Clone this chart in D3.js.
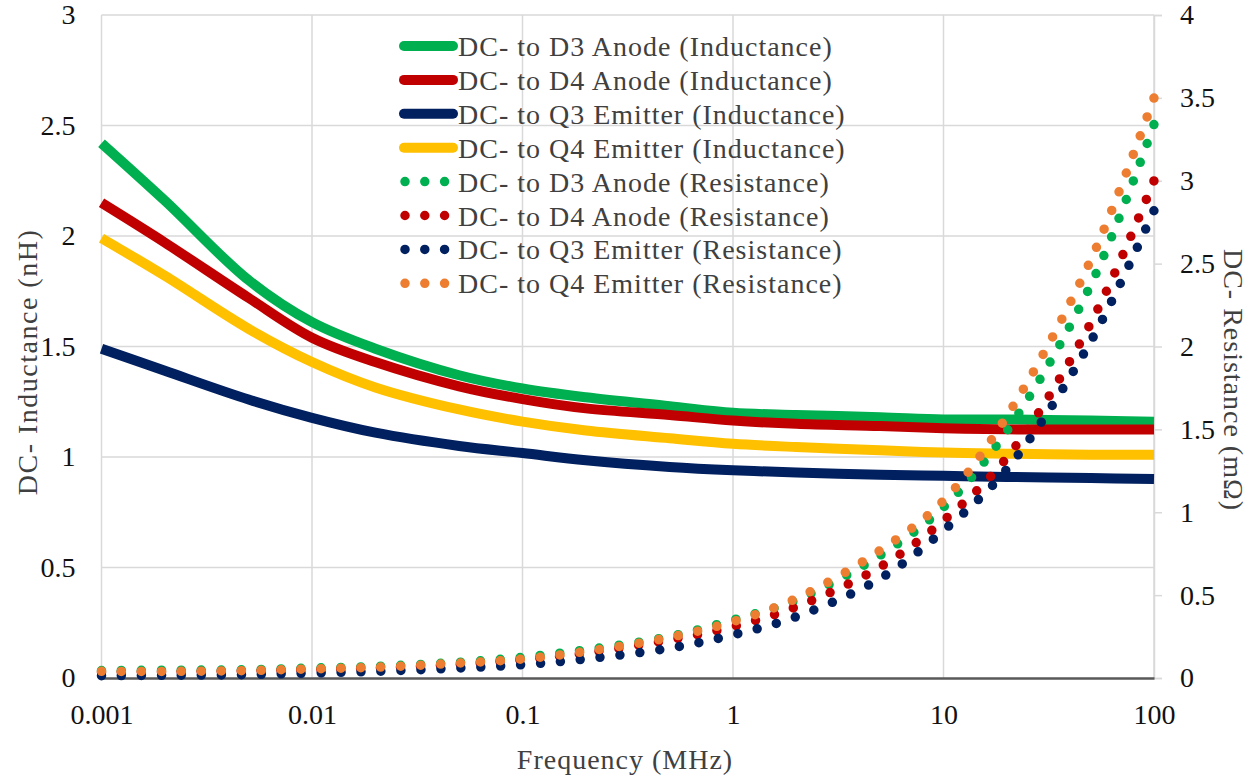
<!DOCTYPE html>
<html>
<head>
<meta charset="utf-8">
<script src="https://cdn.jsdelivr.net/npm/d3@7"></script>
<style>
  html, body { margin: 0; padding: 0; background: #fff; }
  svg { display: block; }
  text { font-family: "Liberation Serif", "Times New Roman", serif; }
</style>
</head>
<body>
<svg id="chart" width="1258" height="778"></svg>
<script>
// ---- data ----
const freqs = [0.001, 0.002, 0.005, 0.01, 0.02, 0.05, 0.1, 0.2, 0.5, 1, 2, 5, 10, 20, 50, 100];

const indD3 = [2.42, 2.16, 1.80, 1.61, 1.49, 1.37, 1.31, 1.27, 1.23, 1.20, 1.19, 1.18, 1.17, 1.17, 1.165, 1.16];
const indD4 = [2.15, 1.97, 1.72, 1.54, 1.43, 1.32, 1.262, 1.22, 1.19, 1.165, 1.15, 1.14, 1.13, 1.125, 1.125, 1.125];
const indQ3 = [1.49, 1.39, 1.26, 1.177, 1.11, 1.05, 1.018, 0.985, 0.955, 0.94, 0.93, 0.92, 0.915, 0.91, 0.905, 0.90];
const indQ4 = [1.99, 1.82, 1.58, 1.43, 1.315, 1.215, 1.16, 1.12, 1.085, 1.06, 1.045, 1.03, 1.02, 1.015, 1.01, 1.01];

const resD3 = [0.045, 0.047, 0.05, 0.06, 0.07, 0.095, 0.125, 0.17, 0.25, 0.35, 0.47, 0.74, 1.03, 1.49, 2.37, 3.34];
const resD4 = [0.035, 0.037, 0.042, 0.05, 0.06, 0.083, 0.11, 0.15, 0.23, 0.31, 0.43, 0.67, 0.95, 1.33, 2.14, 3.00];
const resQ3 = [0.014, 0.016, 0.021, 0.03, 0.04, 0.06, 0.08, 0.115, 0.18, 0.26, 0.37, 0.60, 0.89, 1.26, 2.03, 2.82];
const resQ4 = [0.04, 0.04, 0.045, 0.055, 0.065, 0.09, 0.115, 0.16, 0.245, 0.34, 0.48, 0.77, 1.07, 1.58, 2.52, 3.50];

const xTicks = [0.001, 0.01, 0.1, 1, 10, 100];
const xTickLabels = ["0.001", "0.01", "0.1", "1", "10", "100"];
const yLeftTicks = [0, 0.5, 1, 1.5, 2, 2.5, 3];
const yRightTicks = [0, 0.5, 1, 1.5, 2, 2.5, 3, 3.5, 4];

const inductanceSeries = [
  { name: "DC- to D3 Anode (Inductance)", values: indD3, color: "#00B050" },
  { name: "DC- to D4 Anode (Inductance)", values: indD4, color: "#C00000" },
  { name: "DC- to Q3 Emitter (Inductance)", values: indQ3, color: "#002060" },
  { name: "DC- to Q4 Emitter (Inductance)", values: indQ4, color: "#FFC000" }
];
const resistanceSeries = [
  { name: "DC- to D3 Anode (Resistance)", values: resD3, color: "#00B050" },
  { name: "DC- to D4 Anode (Resistance)", values: resD4, color: "#C00000" },
  { name: "DC- to Q3 Emitter (Resistance)", values: resQ3, color: "#002060" },
  { name: "DC- to Q4 Emitter (Resistance)", values: resQ4, color: "#ED7D31" }
];

// ---- layout ----
const svg = d3.select("#chart");
const L = 101.5, R = 1154, T = 15, B = 678;

const x = d3.scaleLog().domain([0.001, 100]).range([L, R]);
const yL = d3.scaleLinear().domain([0, 3]).range([B, T]);
const yR = d3.scaleLinear().domain([0, 4]).range([B, T]);

const grid = svg.append("g");
grid.selectAll("line.h").data(yLeftTicks.filter(d => d > 0)).join("line")
  .attr("x1", L).attr("x2", R)
  .attr("y1", d => yL(d)).attr("y2", d => yL(d))
  .attr("stroke", "#d9d9d9").attr("stroke-width", 1.5);
grid.selectAll("line.v").data(xTicks).join("line")
  .attr("x1", d => x(d)).attr("x2", d => x(d))
  .attr("y1", T).attr("y2", B)
  .attr("stroke", "#d9d9d9").attr("stroke-width", 1.5);

// axes
const fontSize = 28;
const axL = svg.append("g").attr("transform", `translate(${L},0)`)
  .call(d3.axisLeft(yL).tickValues(yLeftTicks).tickFormat(d3.format("")).tickSize(0).tickPadding(26));
axL.select(".domain").remove();

const axR = svg.append("g").attr("transform", `translate(${R},0)`)
  .call(d3.axisRight(yR).tickValues(yRightTicks).tickFormat(d3.format("")).tickSize(8).tickPadding(18));
axR.select(".domain").attr("stroke", "#d9d9d9").attr("stroke-width", 1.5);
axR.selectAll(".tick line").attr("stroke", "#d9d9d9").attr("stroke-width", 1.5);

const axB = svg.append("g").attr("transform", `translate(0,${B})`)
  .call(d3.axisBottom(x).tickValues(xTicks).tickFormat((d, i) => xTickLabels[i]).tickSize(0).tickPadding(26));
axB.select(".domain").attr("stroke", "#595959").attr("stroke-width", 2.5);

svg.selectAll(".tick text")
  .attr("font-family", "Liberation Serif")
  .attr("font-size", fontSize)
  .attr("fill", "#111");

// lines
const curve = d3.curveCatmullRom.alpha(0.5);
const lineL = d3.line().x((d, i) => x(freqs[i])).y(d => yL(d)).curve(curve);
const lineR = d3.line().x((d, i) => x(freqs[i])).y(d => yR(d)).curve(curve);

svg.append("g").selectAll("path").data(inductanceSeries).join("path")
  .attr("d", s => lineL(s.values))
  .attr("fill", "none").attr("stroke", s => s.color)
  .attr("stroke-width", 10).attr("stroke-linejoin", "round");

svg.append("g").selectAll("path").data(resistanceSeries).join("path")
  .attr("d", s => lineR(s.values))
  .attr("fill", "none").attr("stroke", s => s.color)
  .attr("stroke-width", 9.5).attr("stroke-linecap", "round")
  .each(function () {
    const len = this.getTotalLength();
    const n = Math.max(1, Math.round(len / 20));
    const gap = (len - 0.5) / n;
    d3.select(this).attr("stroke-dasharray", `0 ${gap}`);
  });

// legend
const legendItems = inductanceSeries.map(s => ({ ...s, dotted: false }))
  .concat(resistanceSeries.map(s => ({ ...s, dotted: true })));
const lg = svg.append("g");
const rowY = i => 46 + i * 33.9;
legendItems.forEach((s, i) => {
  const y = rowY(i);
  if (!s.dotted) {
    lg.append("line").attr("x1", 404).attr("x2", 453).attr("y1", y).attr("y2", y)
      .attr("stroke", s.color).attr("stroke-width", 10).attr("stroke-linecap", "round");
  } else {
    lg.append("line").attr("x1", 405).attr("x2", 446).attr("y1", y).attr("y2", y)
      .attr("stroke", s.color).attr("stroke-width", 9.5).attr("stroke-linecap", "round")
      .attr("stroke-dasharray", "0 19.8");
  }
  lg.append("text").attr("x", 458).attr("y", y + 10)
    .attr("font-size", 28).attr("letter-spacing", 1).attr("fill", "#404040")
    .text(s.name);
});

// axis titles
svg.append("text").attr("x", 625).attr("y", 769).attr("text-anchor", "middle")
  .attr("font-size", 28).attr("letter-spacing", 1).attr("fill", "#404040")
  .text("Frequency (MHz)");
svg.append("text").attr("transform", "translate(37,362) rotate(-90)").attr("text-anchor", "middle")
  .attr("font-size", 28).attr("letter-spacing", 1.5).attr("fill", "#404040")
  .text("DC- Inductance (nH)");
svg.append("text").attr("transform", "translate(1224,380) rotate(90)").attr("text-anchor", "middle")
  .attr("font-size", 28).attr("letter-spacing", 1).attr("fill", "#404040")
  .text("DC- Resistance (mΩ)");
</script>
</body>
</html>
